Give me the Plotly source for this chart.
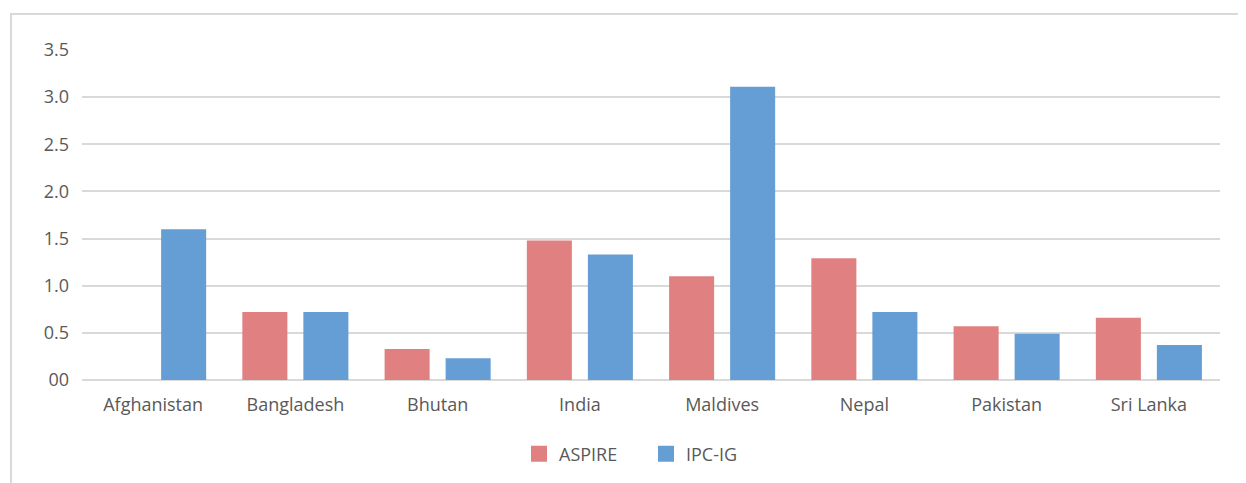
import plotly.graph_objects as go

countries = ["Afghanistan", "Bangladesh", "Bhutan", "India", "Maldives", "Nepal", "Pakistan", "Sri Lanka"]
aspire = [None, 0.72, 0.33, 1.48, 1.10, 1.29, 0.57, 0.66]
ipcig = [1.60, 0.72, 0.23, 1.33, 3.11, 0.72, 0.49, 0.37]
ytick_vals = [0, 0.5, 1.0, 1.5, 2.0, 2.5, 3.0, 3.5]
ytick_text = ["00", "0.5", "1.0", "1.5", "2.0", "2.5", "3.0", "3.5"]

c_aspire = "#E08080"
c_ipc = "#659ED5"
font_col = "#595959"
FONT = "Open Sans"

fig = go.Figure()
fig.add_trace(go.Bar(x=countries, y=aspire, name="ASPIRE", marker_color=c_aspire,
                     marker_line_width=0, showlegend=False))
fig.add_trace(go.Bar(x=countries, y=ipcig, name="IPC-IG", marker_color=c_ipc,
                     marker_line_width=0, showlegend=False))
# legend entries
fig.add_trace(go.Scatter(x=[None], y=[None], mode="markers", name="ASPIRE",
                         marker=dict(symbol="square", size=16, color=c_aspire)))
fig.add_trace(go.Scatter(x=[None], y=[None], mode="markers", name="IPC-IG",
                         marker=dict(symbol="square", size=16, color=c_ipc)))

W, H = 1246, 483
OFF = 8  # page body margin
# target pixel positions in screenshot
pl, pr, pt, pb = 82, 1220, 50, 380
ml = pl - OFF
mt = pt - OFF
mr = W - (pr - OFF)
mb = H - (pb - OFF)
pw, ph = W - ml - mr, H - mt - mb

def px_x(p):
    return (p - OFF - ml) / pw

def px_y(p):
    return (H - mb - (p - OFF)) / ph

fig.update_layout(
    width=W, height=H,
    margin=dict(l=ml, r=mr, t=mt, b=mb, pad=0),
    paper_bgcolor="white", plot_bgcolor="white",
    barmode="group", bargap=0.142, bargroupgap=0.262,
    font=dict(family=FONT, size=18, color=font_col),
    xaxis=dict(showgrid=False, showline=False, ticks="", ticklabelstandoff=12,
               tickfont=dict(size=18, color=font_col)),
    yaxis=dict(range=[0, 3.5], tickvals=ytick_vals, ticktext=ytick_text,
               showgrid=True, gridcolor="#D9D9D9", gridwidth=1.5,
               zeroline=True, zerolinecolor="#D9D9D9", zerolinewidth=1.5,
               showline=False, ticks="", ticklabelstandoff=12,
               tickfont=dict(size=18, color=font_col)),
    legend=dict(orientation="h", x=px_x(646), xanchor="center", y=px_y(454), yanchor="middle",
                font=dict(size=18, color=font_col), itemwidth=30, entrywidth=82,
                tracegroupgap=0, bgcolor="rgba(0,0,0,0)"),
    shapes=[dict(type="rect", xref="paper", yref="paper",
                 x0=px_x(11), x1=px_x(W + 30), y0=px_y(H + 30), y1=px_y(14),
                 line=dict(color="#D9D9D9", width=2), fillcolor="rgba(0,0,0,0)",
                 layer="below")],
)

fig.write_html("out.html")
